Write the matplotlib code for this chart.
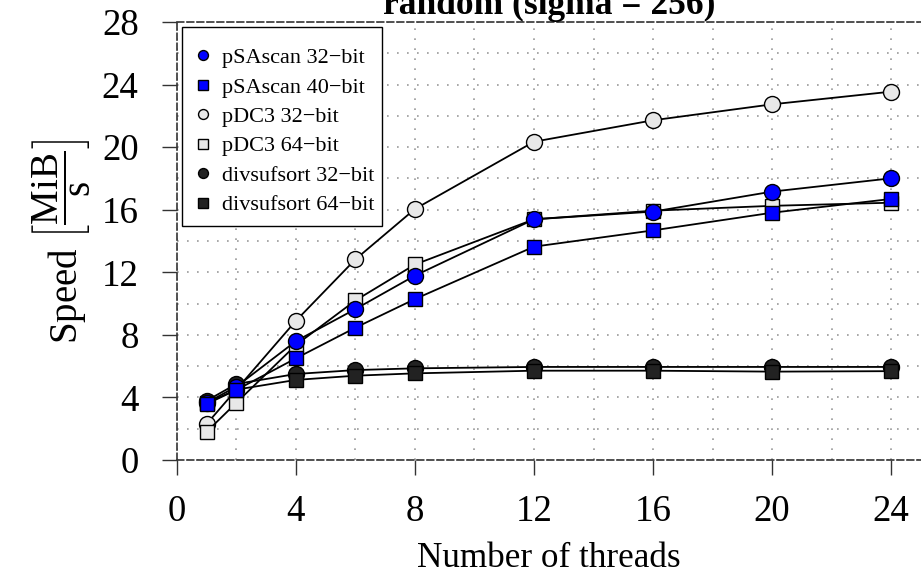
import matplotlib
matplotlib.use('Agg')
import matplotlib.pyplot as plt
from matplotlib.patches import Rectangle
from matplotlib.ticker import MultipleLocator

plt.rcParams['font.family'] = ['Liberation Serif', 'DejaVu Serif']
plt.rcParams['mathtext.fontset'] = 'custom'
plt.rcParams['mathtext.rm'] = 'Liberation Serif'
plt.rcParams['mathtext.it'] = 'Liberation Serif:italic'
plt.rcParams['mathtext.bf'] = 'Liberation Serif:bold'

threads = [1, 2, 4, 6, 8, 12, 16, 20, 24]

psascan_32 = [3.66, 4.69, 7.6, 9.65, 11.79, 15.39, 15.88, 17.16, 18.01]
psascan_40 = [3.58, 4.48, 6.5, 8.46, 10.29, 13.64, 14.68, 15.81, 16.69]
pdc3_32 = [2.3, 4.5, 8.9, 12.83, 16.05, 20.35, 21.72, 22.74, 23.55]
pdc3_64 = [1.8, 3.66, 7.35, 10.2, 12.5, 15.39, 15.94, 16.25, 16.45]
divsufsort_32 = [3.79, 4.86, 5.5, 5.75, 5.86, 5.95, 5.95, 5.95, 5.95]
divsufsort_64 = [3.64, 4.5, 5.12, 5.39, 5.54, 5.71, 5.71, 5.65, 5.68]

labels = ['pSAscan 32\u2212bit', 'pSAscan 40\u2212bit', 'pDC3 32\u2212bit',
          'pDC3 64\u2212bit', 'divsufsort 32\u2212bit', 'divsufsort 64\u2212bit']

fig = plt.figure(figsize=(9.21, 5.74), dpi=100)
ax = fig.add_axes([0.192, 0.1986, 0.808, 0.763])

# drawing order (legend order differs)
series = [
    (pdc3_32, 'o', '#e8e8e8', 2),
    (pdc3_64, 's', '#e8e8e8', 3),
    (divsufsort_32, 'o', '#222222', 4),
    (divsufsort_64, 's', '#222222', 5),
    (psascan_32, 'o', '#0000ff', 0),
    (psascan_40, 's', '#0000ff', 1),
]
handles = [None] * 6
for vals, mk, col, idx in series:
    ln, = ax.plot(threads, vals, color='black', lw=1.3, marker=mk,
                  markersize=11.5 if mk == 'o' else 10.5, markerfacecolor=col,
                  markeredgecolor='black', markeredgewidth=1.0)
    handles[idx] = ln

ax.set_xlim(0, 25)
ax.set_ylim(0, 28)
ax.xaxis.set_major_locator(MultipleLocator(4))
ax.xaxis.set_minor_locator(MultipleLocator(2))
ax.yaxis.set_major_locator(MultipleLocator(4))
ax.yaxis.set_minor_locator(MultipleLocator(2))
ax.grid(True, which='both', color='#999999', linestyle=(0, (1, 5)), lw=1.2)
ax.set_axisbelow(True)

ax.tick_params(which='major', direction='out', length=11, width=1, color='#333333',
               labelsize=26.5)
ax.tick_params(axis='y', which='major', pad=16.5)
ax.tick_params(axis='x', which='major', pad=14)
ax.tick_params(which='minor', length=0)

for s in ['left', 'bottom', 'top']:
    ax.spines[s].set_color('#333333')
    ax.spines[s].set_linestyle((0, (4, 2)))
    ax.spines[s].set_linewidth(1.2)
ax.spines['right'].set_visible(False)

ax.set_xlabel('Number of threads', fontsize=25.3, labelpad=9)
ax.set_ylabel(r'Speed $\left[\dfrac{\mathrm{MiB}}{\mathrm{s}}\right]$', fontsize=28, labelpad=6)
ax.set_title('random (sigma = 256)', fontsize=25.5, fontweight='bold', pad=6)

# legend box drawn separately (padding is uneven in the reference)
ax.add_patch(Rectangle((0.0067, 0.5342), 0.2688, 0.4544, transform=ax.transAxes,
                       facecolor='white', edgecolor='black', lw=1.0, zorder=4.5))
leg = ax.legend(handles, labels, loc='upper left', fontsize=16, frameon=False,
                markerscale=0.62, handlelength=0.1, handletextpad=0.8,
                labelspacing=0.4, borderaxespad=0.3, borderpad=0.85)
leg.set_zorder(5)
for h in leg.legend_handles:
    h.set_linestyle('none')

fig.savefig('out.png', dpi=100)
